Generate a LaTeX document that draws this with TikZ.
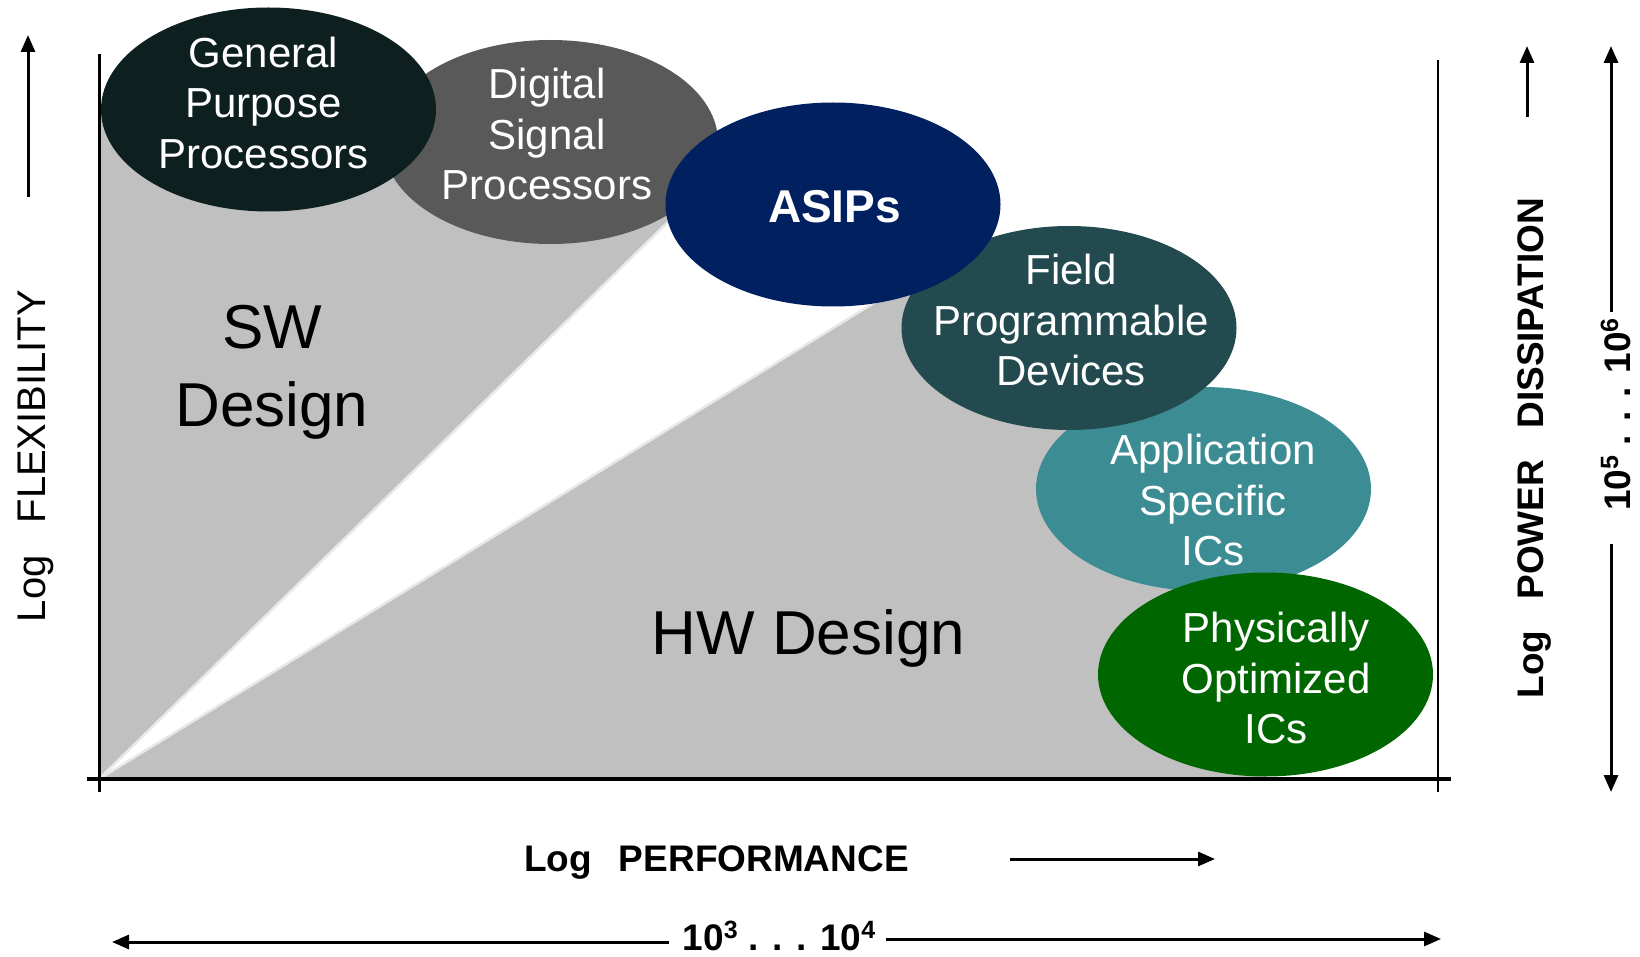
\documentclass[tikz,border=0pt]{standalone}
\usepackage{fontspec}
\setmainfont{Liberation Sans}
\usetikzlibrary{arrows.meta,shapes.geometric}
\definecolor{gppc}{HTML}{0E1F1F}
\definecolor{dspc}{HTML}{595959}
\definecolor{asipc}{HTML}{002060}
\definecolor{fpdc}{HTML}{234B4F}
\definecolor{asicc}{HTML}{3C8C93}
\definecolor{poc}{HTML}{006600}
\definecolor{areac}{HTML}{C0C0C0}
\definecolor{edgec}{HTML}{E8E8E8}
\begin{document}
\begin{tikzpicture}[x=1pt,y=-1pt,
  blob/.style={ellipse, minimum width=335pt, minimum height=204pt, inner sep=0pt, draw=none},
  blobtext/.style={text=white, align=center, inner sep=0pt, font=\fontsize{42}{50.5}\selectfont},
  axisline/.style={line width=3pt, black},
  arr/.style={line width=3pt, -{Triangle[length=17pt,width=14pt]}},
  boldlabel/.style={font=\bfseries\fontsize{37}{44}\selectfont, inner sep=0pt, anchor=base},
  biglabel/.style={font=\fontsize{62}{78}\selectfont, align=center, inner sep=0pt}
]
\useasboundingbox (0,0) rectangle (1640,957);
% shaded design regions
\fill[areac] (99,779) -- (99,108) -- (690,108) -- (682,160) -- (675,215) -- cycle;
\fill[areac] (99,779) -- (895,290) -- (1069,290) -- (1203,489) -- (1265,674) -- (1265,779) -- cycle;
\coordinate (orig) at (99,779);
\coordinate (swedge) at (675,215);
\coordinate (hwedge) at (895,290);
\draw[edgec, line width=2.5pt] (orig) -- (swedge);
\draw[edgec, line width=2.5pt] (orig) -- (hwedge);
% ellipses
\node[blob, fill=dspc] (dsp) at (550.5,142) {};
\node[blob, fill=gppc] (gpp) at (268.5,109.5) {};
\node[blob, fill=asicc] (asic) at (1203.5,489) {};
\node[blob, fill=fpdc] (fpd) at (1069,328) {};
\node[blob, fill=asipc] (asip) at (833,204.5) {};
\node[blob, fill=poc] (po) at (1265.5,674.5) {};
% axes
\coordinate (ytop) at (99,54);
\coordinate (ybot) at (99,792);
\coordinate (xleft) at (87,779);
\coordinate (xright) at (1451,779);
\coordinate (rtop) at (1438,60);
\coordinate (rbot) at (1438,792);
\draw[axisline] (ytop) -- (ybot);
\draw[line width=3.5pt] (xleft) -- (xright);
\draw[line width=2.5pt] (rtop) -- (rbot);
% ellipse texts
\node[blobtext] (tgpp) at (263.5,102.5) {General\\Purpose\\Processors};
\node[blobtext] (tdsp) at (547,134) {Digital\\Signal\\Processors};
\node[text=white, inner sep=0pt, font=\bfseries\fontsize{46}{55}\selectfont] (tasip) at (834.5,206.5) {ASIPs};
\node[blobtext] (tfpd) at (1071,320) {Field\\Programmable\\Devices};
\node[blobtext] (tasic) at (1213,500) {Application\\Specific\\ICs};
\node[blobtext] (tpo) at (1276,678) {Physically\\Optimized\\ICs};
% region labels
\node[biglabel] (sw) at (272,372) {SW\\Design};
\node[biglabel, anchor=base] (hw) at (808.5,654) {HW Design};
% axis labels
\node[font=\fontsize{40}{48}\selectfont, inner sep=0pt, anchor=base, rotate=90] (flex) at (45,456) {Log\hspace{32pt}FLEXIBILITY};
\node[boldlabel, rotate=90] (power) at (1543,448) {Log\hspace{31pt}POWER\hspace{31pt}DISSIPATION};
\node[boldlabel, rotate=90] (prange) at (1630,414.5) {10\raisebox{12pt}{\fontsize{25}{25}\selectfont 5} . . . 10\raisebox{12pt}{\fontsize{25}{25}\selectfont 6}};
\node[boldlabel] (perf) at (716.5,871) {Log\hspace{27pt}PERFORMANCE};
\node[boldlabel] (xrange) at (779,950) {10\raisebox{12pt}{\fontsize{25}{25}\selectfont 3} . . . 10\raisebox{12pt}{\fontsize{25}{25}\selectfont 4}};
% arrows
\coordinate (fa) at (28,197);
\coordinate (fb) at (28,35);
\draw[arr] (fa) -- (fb);
\coordinate (pa) at (1527,117);
\coordinate (pb) at (1527,46);
\draw[arr] (pa) -- (pb);
\coordinate (ra) at (1611,312);
\coordinate (rb) at (1611,46);
\draw[arr] (ra) -- (rb);
\coordinate (rc) at (1611,544);
\coordinate (rd) at (1611,792);
\draw[arr] (rc) -- (rd);
\coordinate (ea) at (1010,859);
\coordinate (eb) at (1215,859);
\draw[arr] (ea) -- (eb);
\coordinate (la) at (669,942);
\coordinate (lb) at (112,942);
\draw[arr] (la) -- (lb);
\coordinate (lc) at (886,939);
\coordinate (ld) at (1441,939);
\draw[arr] (lc) -- (ld);
\end{tikzpicture}
\end{document}
